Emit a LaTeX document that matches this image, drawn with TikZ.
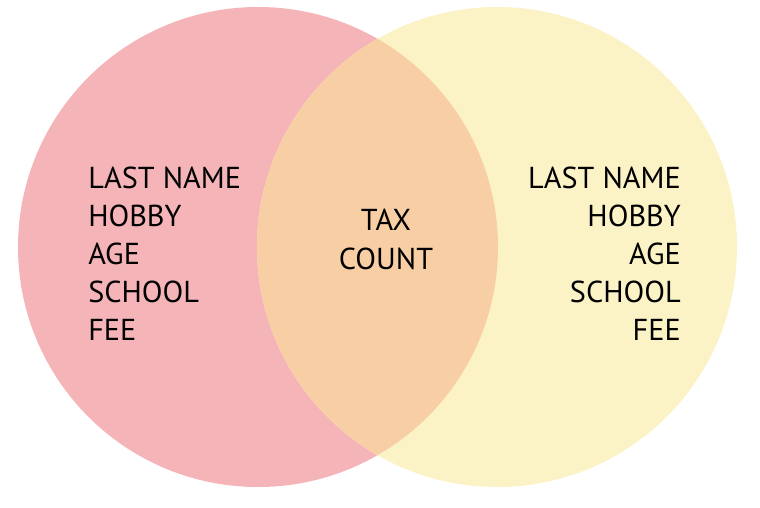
\documentclass[tikz,border=0pt]{standalone}
\usepackage{fontspec}
\setmainfont{PT Sans}
\definecolor{setpink}{HTML}{F5B5B8}
\definecolor{setyellow}{HTML}{FBF3C5}
\definecolor{setboth}{HTML}{F8CFA4}
\tikzset{
  field/.style={font=\fontsize{22.7}{26}\selectfont, inner sep=0pt},
}
\begin{document}
\begin{tikzpicture}[x=0.75pt,y=-0.75pt]
    \useasboundingbox (0,0) rectangle (760,507);
    \fill[setpink] (258,247) circle[radius=240];
    \fill[setyellow] (497,247) circle[radius=240];
    \begin{scope}
        \clip (258,247) circle[radius=240];
        \fill[setboth] (497,247) circle[radius=240];
    \end{scope}
    \foreach \txt [count=\i] in {LAST NAME, HOBBY, AGE, SCHOOL, FEE} {
        \node[field, anchor=base west] (left\i) at (88,{188+38*(\i-1)}) {\txt};
        \node[field, anchor=base east] (right\i) at (681,{188+38*(\i-1)}) {\txt};
    }
    \node[field, anchor=base] (tax) at (386,230) {TAX};
    \node[field, anchor=base] (count) at (386,269) {COUNT};
\end{tikzpicture}
\end{document}
